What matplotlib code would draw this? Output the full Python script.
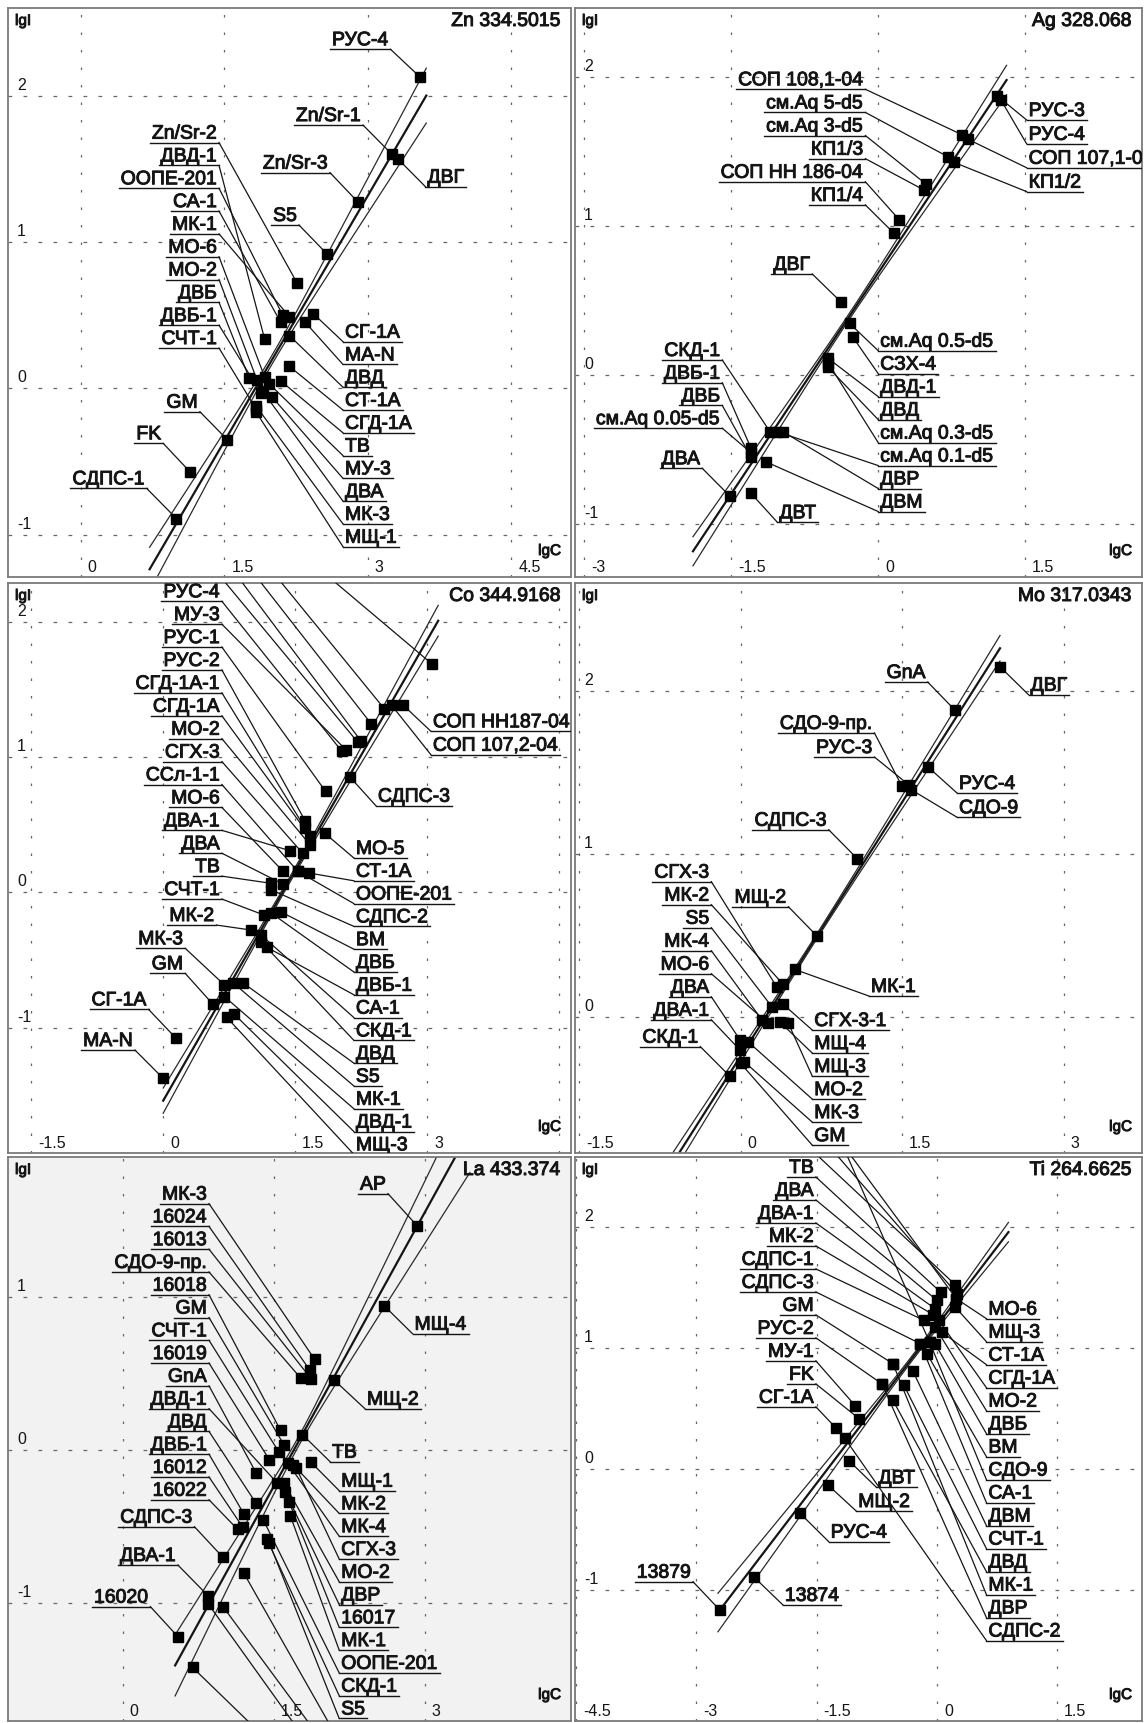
import numpy as np
import matplotlib.pyplot as plt
import matplotlib.patheffects as pe
from matplotlib.transforms import offset_copy

plt.rcParams['font.family'] = ['Liberation Sans', 'DejaVu Sans']

W, H = 1145, 1723

# ---------------- Zn 334.5015 ----------------
zn_names = ['Zn/Sr-2', 'ДВД-1', 'ООПЕ-201', 'СА-1', 'МК-1', 'МО-6', 'МО-2', 'ДВБ', 'ДВБ-1', 'СЧТ-1',
            'СГ-1А', 'МА-N', 'ДВД', 'СТ-1А', 'СГД-1А', 'ТВ', 'МУ-3', 'ДВА', 'МК-3', 'МЩ-1',
            'РУС-4', 'Zn/Sr-1', 'ДВГ', 'Zn/Sr-3', 'S5', 'GM', 'FK', 'СДПС-1']
zn_lgc = [2.26, 1.92, 2.11, 2.09, 2.18, 1.92, 1.84, 1.76, 1.88, 1.83,
          2.43, 2.34, 2.18, 2.18, 2.09, 1.97, 2.00, 1.90, 1.83, 1.83,
          3.54, 3.25, 3.31, 2.90, 2.57, 1.53, 1.14, 1.00]
zn_lgi = [0.72, 0.34, 0.50, 0.45, 0.49, 0.08, 0.06, 0.07, -0.03, -0.14,
          0.51, 0.455, 0.36, 0.15, 0.05, 0.03, -0.06, -0.02, -0.12, -0.16,
          2.13, 1.60, 1.57, 1.27, 0.92, -0.35, -0.57, -0.89]
zn_fit = [1.12, -2.043]          # slope, intercept
zn_band = [0.03, 0.115, 2.0]     # half-width at centre, spread, centre lgC
zn_span = [0.72, 3.61]

# ---------------- Ag 328.068 ----------------
ag_names = ['СОП 108,1-04', 'см.Aq 5-d5', 'см.Aq 3-d5', 'КП1/3', 'СОП НН 186-04', 'КП1/4',
            'РУС-3', 'РУС-4', 'СОП 107,1-04', 'КП1/2',
            'СКД-1', 'ДВБ-1', 'ДВБ', 'см.Aq 0.05-d5',
            'см.Aq 0.5-d5', 'СЗХ-4', 'ДВД-1', 'ДВД', 'см.Aq 0.3-d5', 'см.Aq 0.1-d5', 'ДВР', 'ДВМ',
            'ДВГ', 'ДВА', 'ДВТ']
ag_lgc = [0.86, 0.711, 0.487, 0.467, 0.217, 0.161,
          1.216, 1.253, 0.916, 0.775,
          -1.104, -1.298, -1.298, -1.30,
          -0.292, -0.262, -0.512, -0.512, -0.51, -1.03, -0.972, -1.149,
          -0.382, -1.515, -1.298]
ag_lgi = [1.609, 1.463, 1.28, 1.24, 1.039, 0.95,
          1.87, 1.843, 1.58, 1.425,
          -0.38, -0.49, -0.55, -0.52,
          0.346, 0.257, 0.112, 0.052, 0.08, -0.38, -0.38, -0.581,
          0.491, -0.811, -0.793]
ag_fit = [0.987, 0.684]
ag_band = [0.02, 0.06, -0.3]
ag_span = [-1.89, 1.31]

# ---------------- Co 344.9168 ----------------
co_names = ['РУС-4', 'МУ-3', 'РУС-1', 'РУС-2', 'СГД-1А-1', 'СГД-1А', 'МО-2', 'СГХ-3', 'ССл-1-1', 'МО-6',
            'ДВА-1', 'ДВА', 'ТВ', 'СЧТ-1',
            'МО-5', 'СТ-1А', 'ООПЕ-201', 'СДПС-2', 'ВМ', 'ДВБ', 'ДВБ-1', 'СА-1', 'СКД-1', 'ДВД', 'S5',
            'МК-1', 'ДВД-1', 'МЩ-3',
            'МК-2', 'МК-3', 'GM', 'СГ-1А', 'МА-N', 'СОП НН187-04', 'СОП 107,2-04', 'СДПС-3',
            '', '', '', '', '']
co_lgc = [2.03, 2.075, 1.845, 1.612, 1.612, 1.667, 1.667, 1.583, 1.529, 1.362,
          1.438, 1.362, 1.23, 1.145,
          1.833, 1.654, 1.529, 1.23, 1.333, 1.23, 1.18, 1.113, 1.113, 0.904, 0.792,
          0.696, 0.804, 0.721,
          1.0, 0.696, 0.563, 0.146, 0.0, 2.729, 2.596, 2.125,
          2.21, 2.25, 2.363, 2.512, 3.055]
co_lgi = [1.042, 1.054, 0.746, 0.529, 0.475, 0.414, 0.352, 0.29, 0.155, 0.155,
          0.308, 0.061, 0.066, -0.168,
          0.438, 0.143, 0.155, 0.017, -0.143, -0.155, -0.407, -0.316, -0.365, -0.668, -0.668,
          -0.771, -0.899, -0.924,
          -0.279, -0.685, -0.826, -1.079, -1.375, 1.382, 1.382, 0.85,
          1.11, 1.116, 1.246, 1.357, 1.687]
co_fit = [1.135, -1.54]
co_band = [0.02, 0.065, 1.4]
co_span = [0.0, 3.125]

# ---------------- Mo 317.0343 ----------------
mo_names = ['СГХ-3', 'МК-2', 'S5', 'МК-4', 'МО-6', 'ДВА', 'ДВА-1',
            'СГХ-3-1', 'МЩ-4', 'МЩ-3', 'МО-2', 'МК-3', 'GM',
            'GnA', 'ДВГ', 'СДО-9-пр.', 'РУС-3', 'РУС-4', 'СДО-9', 'СДПС-3', 'МЩ-2', 'МК-1', 'СКД-1']
mo_lgc = [0.334, 0.392, 0.29, 0.198, 0.256, -0.006, -0.006,
          0.392, 0.368, 0.443, 0.068, 0.033, 0.0,
          1.993, 2.413, 1.499, 1.56, 1.744, 1.585, 1.084, 0.709, 0.501, -0.102]
mo_lgi = [0.184, 0.201, 0.061, -0.02, -0.041, -0.143, -0.205,
          0.078, -0.035, -0.041, -0.154, -0.277, -0.287,
          1.883, 2.149, 1.416, 1.426, 1.533, 1.395, 0.971, 0.496, 0.291, -0.365]
mo_fit = [1.04, -0.242]
mo_band = [0.015, 0.045, 0.7]
mo_span = [-0.75, 2.41]

# ---------------- La 433.374 ----------------
la_names = ['МК-3', '16024', '16013', 'СДО-9-пр.', '16018', 'GM', 'СЧТ-1', '16019', 'GnA', 'ДВД-1',
            'ДВД', 'ДВБ-1', '16012', '16022',
            'МЩ-1', 'МК-2', 'МК-4', 'СГХ-3', 'МО-2', 'ДВР', '16017', 'МК-1', 'ООПЕ-201', 'СКД-1', 'S5',
            'АР', 'МЩ-4', 'МЩ-2', 'ТВ', 'СДПС-3', 'ДВА-1', '16020',
            '', '', '', '']
la_lgc = [1.907, 1.86, 1.871, 1.768, 1.568, 1.604, 1.55, 1.458, 1.324, 1.532,
          1.324, 1.204, 1.193, 1.141,
          1.871, 1.696, 1.641, 1.725, 1.604, 1.615, 1.652, 1.666, 1.397, 1.433, 1.458,
          2.928, 2.6, 2.104, 1.786, 0.996, 0.85, 0.548,
          1.204, 0.996, 0.85, 0.693]
la_lgi = [0.591, 0.52, 0.465, 0.469, 0.128, 0.031, -0.011, -0.065, -0.148, -0.213,
          -0.347, -0.417, -0.504, -0.517,
          -0.08, -0.098, -0.087, -0.119, -0.217, -0.272, -0.337, -0.43, -0.456, -0.582, -0.608,
          1.46, 0.939, 0.454, 0.1, -0.7, -0.952, -1.217,
          -0.804, -1.021, -1.004, -1.417]
la_fit = [1.19, -2.023]
la_band = [0.03, 0.16, 1.75]
la_span = [0.52, 3.45]

# ---------------- Ti 264.6625 ----------------
ti_names = ['ТВ', 'ДВА', 'ДВА-1', 'МК-2', 'СДПС-1', 'СДПС-3', 'GM', 'РУС-2', 'МУ-1', 'FK', 'СГ-1А',
            'МО-6', 'МЩ-3', 'СТ-1А', 'СГД-1А', 'МО-2', 'ДВБ', 'ВМ', 'СДО-9', 'СА-1', 'ДВМ', 'СЧТ-1',
            'ДВД', 'МК-1', 'ДВР', 'СДПС-2',
            'ДВТ', 'МЩ-2', 'РУС-4', '13874', '13879',
            '', '', '', '']
ti_lgc = [0.045, 0.0, -0.023, -0.046, -0.161, -0.206, -0.548, -0.686, -1.015, -0.97, -1.258,
          0.242, 0.228, 0.059, 0.022, -0.023, -0.023, -0.124, -0.092, -0.206, -0.298, -0.411,
          -0.548, -0.548, -0.686, -1.152,
          -1.097, -1.358, -1.706, -2.277, -2.707,
          0.228, 0.25, 0.242, -0.092]
ti_lgi = [1.465, 1.397, 1.327, 1.278, 1.231, 1.038, 0.873, 0.707, 0.523, 0.418, 0.341,
          1.41, 1.341, 1.135, 1.231, 1.176, 1.038, 0.955, 1.052, 1.038, 0.81, 0.694,
          0.57, 0.873, 0.707, 0.259,
          0.071, -0.13, -0.364, -0.893, -1.163,
          1.526, 1.451, 1.41, 1.052]
ti_fit = [0.868, 1.186]
ti_band = [0.02, 0.065, -0.3]
ti_span = [-2.73, 0.892]


# ---------------- label layout: (anchor lgC, anchor lgI, side) ----------------
def col(x, y0, step, n, side, start=0):
    return [(x, y0 - (start + i) * step, side) for i in range(n)]


zn_tags = (col(1.445, 1.679, 0.156, 10, 'L') + col(2.74, 0.3185, 0.1557, 10, 'R') +
           [(3.236, 2.317, 'L'), (2.949, 1.799, 'L'), (3.601, 1.378, 'R'), (2.604, 1.474, 'L'),
            (2.28, 1.116, 'L'), (1.245, -0.16, 'L'), (0.862, -0.376, 'L'), (0.689, -0.684, 'L')])

ag_tags = (col(-0.131, 1.915, 0.155, 6, 'L') + col(1.515, 1.709, 0.16, 4, 'R') +
           col(-1.591, 0.1005, 0.1524, 4, 'L') + col(0.0, 0.163, 0.154, 8, 'R') +
           [(-0.673, 0.677, 'L'), (-1.796, -0.625, 'L'), (-1.029, -0.987, 'R')])

co_tags = (col(0.667, 2.151, 0.1693, 14, 'L') + col(2.167, 0.2535, 0.1685, 14, 'R') +
           [(0.604, -0.242, 'L'), (0.25, -0.414, 'L'), (0.25, -0.599, 'L'), (-0.167, -0.865, 'L'),
            (-0.321, -1.166, 'L'), (3.042, 1.19, 'R'), (3.042, 1.017, 'R'), (2.417, 0.64, 'R')] +
           col(0.667, 2.151, 0.1693, 5, 'L', start=-5)[::-1])

mo_tags = (col(-0.273, 0.830, 0.1415, 7, 'L') + col(0.665, -0.082, 0.1415, 6, 'R') +
           [(1.738, 2.057, 'L'), (2.675, 1.979, 'R'), (1.243, 1.744, 'L'), (1.243, 1.596, 'L'),
            (2.01, 1.375, 'R'), (2.01, 1.226, 'R'), (0.818, 1.149, 'L'), (0.443, 0.676, 'L'),
            (1.192, 0.127, 'R'), (-0.375, -0.184, 'L')])

la_tags = (col(0.857, 1.606, 0.1485, 14, 'L') + col(2.151, -0.265, 0.1485, 11, 'R') +
           [(2.636, 1.671, 'L'), (2.88, 0.758, 'R'), (2.407, 0.269, 'R'), (2.06, -0.076, 'R'),
            (0.712, -0.5, 'L'), (0.548, -0.75, 'L'), (0.274, -1.021, 'L')] +
           col(2.151, -0.265, 0.1485, 4, 'R', start=11))

ti_tags = (col(-1.509, 2.416, 0.19, 11, 'L') + col(0.617, 1.245, 0.19, 15, 'R') +
           [(-0.754, -0.149, 'R'), (-1.006, -0.345, 'R'), (-1.349, -0.598, 'R'),
            (-1.92, -1.121, 'R'), (-3.041, -0.929, 'L')] +
           col(-1.509, 2.416, 0.19, 4, 'L', start=-4)[::-1])

# panel frame in pixels, pixel of (lgC=0, lgI=0), pixels per unit
panels = [
    dict(title='Zn 334.5015', box=(8, 8, 571, 577), origin=(80.7, 388.3), scale=(95.73, 146.33),
         names=zn_names, lgc=zn_lgc, lgi=zn_lgi, fit=zn_fit, band=zn_band, span=zn_span, tags=zn_tags),
    dict(title='Ag 328.068', box=(575, 8, 1142, 577), origin=(878.2, 375.0), scale=(98.0, 149.2),
         names=ag_names, lgc=ag_lgc, lgi=ag_lgi, fit=ag_fit, band=ag_band, span=ag_span, tags=ag_tags),
    dict(title='Co 344.9168', box=(8, 583, 571, 1153), origin=(163.2, 892.3), scale=(88.0, 135.3),
         names=co_names, lgc=co_lgc, lgi=co_lgi, fit=co_fit, band=co_band, span=co_span, tags=co_tags),
    dict(title='Mo 317.0343', box=(575, 583, 1142, 1153), origin=(740.7, 1016.7), scale=(107.6, 162.7),
         names=mo_names, lgc=mo_lgc, lgi=mo_lgi, fit=mo_fit, band=mo_band, span=mo_span, tags=mo_tags),
    dict(title='La 433.374', box=(8, 1157, 571, 1721), origin=(122.8, 1450.0), scale=(100.6, 153.4),
         names=la_names, lgc=la_lgc, lgi=la_lgi, fit=la_fit, band=la_band, span=la_span, tags=la_tags,
         bg='#f2f2f2'),
    dict(title='Ti 264.6625', box=(575, 1157, 1142, 1721), origin=(936.9, 1469.3), scale=(80.2, 121.0),
         names=ti_names, lgc=ti_lgc, lgi=ti_lgi, fit=ti_fit, band=ti_band, span=ti_span, tags=ti_tags),
]

INK = '#151515'
heavy = [pe.withStroke(linewidth=0.7, foreground=INK)]
fig = plt.figure(figsize=(W / 100, H / 100), dpi=100)
fig.patch.set_facecolor('white')
pending = []

for p in panels:
    x0, y0, x1, y1 = p['box']
    cx, cy = p['origin']
    sx, sy = p['scale']
    ax = fig.add_axes([x0 / W, 1 - y1 / H, (x1 - x0) / W, (y1 - y0) / H])
    xlim = ((x0 - cx) / sx, (x1 - cx) / sx)
    ylim = ((cy - y1) / sy, (cy - y0) / sy)
    ax.set_xlim(*xlim)
    ax.set_ylim(*ylim)
    ax.set_autoscale_on(False)
    ax.set_xticks([])
    ax.set_yticks([])
    ax.set_facecolor(p.get('bg', 'white'))
    for sp in ax.spines.values():
        sp.set_color('#7a7a7a')
        sp.set_linewidth(1.3)

    def dots(dx, dy, base=ax.transData):
        return offset_copy(base, fig=fig, x=dx, y=dy, units='dots')

    # dotted grid with tick numbers
    for xv in np.arange(np.ceil(xlim[0] / 1.5) * 1.5, xlim[1], 1.5):
        ax.axvline(xv, color='#666666', lw=0.9, ls=(0, (2, 12)), zorder=1)
        if (xlim[1] - xv) * sx > 40:
            ax.text(xv, ylim[0], f'{xv + 0.0:g}', transform=dots(7, 2), ha='left', va='bottom',
                    fontsize=11.5, color=INK)
    for yv in np.arange(np.ceil(ylim[0]), ylim[1], 1.0):
        if (yv - ylim[0]) * sy < 20:
            continue
        ax.axhline(yv, color='#666666', lw=0.9, ls=(0, (3, 9)), zorder=1)
        ax.text(xlim[0], yv, f'{yv + 0.0:g}', transform=dots(9, 3), ha='left', va='bottom',
                fontsize=11.5, color=INK)

    ax.text(0, 1, 'lgI', transform=dots(7, -6, ax.transAxes), ha='left', va='top',
            fontsize=11, color=INK, path_effects=heavy)
    ax.text(1, 0, 'lgC', transform=dots(-10, 19, ax.transAxes), ha='right', va='bottom',
            fontsize=11, color=INK, path_effects=heavy)
    ax.text(1, 1, p['title'], transform=dots(-10, -5, ax.transAxes), ha='right', va='top',
            fontsize=14, color=INK, path_effects=heavy)

    # calibration line with its confidence band
    a, b = p['fit']
    d0, k, xm = p['band']
    xx = np.linspace(p['span'][0], p['span'][1], 300)
    yc = a * xx + b
    w = np.hypot(d0, k * (xx - xm))
    ax.plot(xx, yc, color=INK, lw=1.6, zorder=2)
    ax.plot(xx, yc + w, color='#2a2a2a', lw=0.9, zorder=2)
    ax.plot(xx, yc - w, color='#2a2a2a', lw=0.9, zorder=2)

    # leaders and sample names
    for name, xv, yv, (tx, ty, side) in zip(p['names'], p['lgc'], p['lgi'], p['tags']):
        ax.plot([tx, xv], [ty, yv], color=INK, lw=0.9, zorder=3)
        if not name:
            continue
        t = ax.text(tx, ty, name, transform=dots(-2 if side == 'L' else 2, 4),
                    ha='right' if side == 'L' else 'left', va='baseline',
                    fontsize=14, color=INK, zorder=5, clip_on=True, path_effects=heavy)
        t.set_clip_path(ax.patch)
        pending.append((ax, t, tx, ty, side))

    ax.plot(p['lgc'], p['lgi'], ls='none', marker='s', ms=7.4, color='black', zorder=4)

# underline each name
renderer = fig.canvas.get_renderer()
for ax, t, tx, ty, side in pending:
    bb = t.get_window_extent(renderer)
    edge = bb.x0 - 2 if side == 'L' else bb.x1 + 2
    ex = ax.transData.inverted().transform((edge, 0))[0]
    ax.plot([ex, tx], [ty, ty], color=INK, lw=1.0, zorder=3)

fig.savefig('out.png', dpi=100)
